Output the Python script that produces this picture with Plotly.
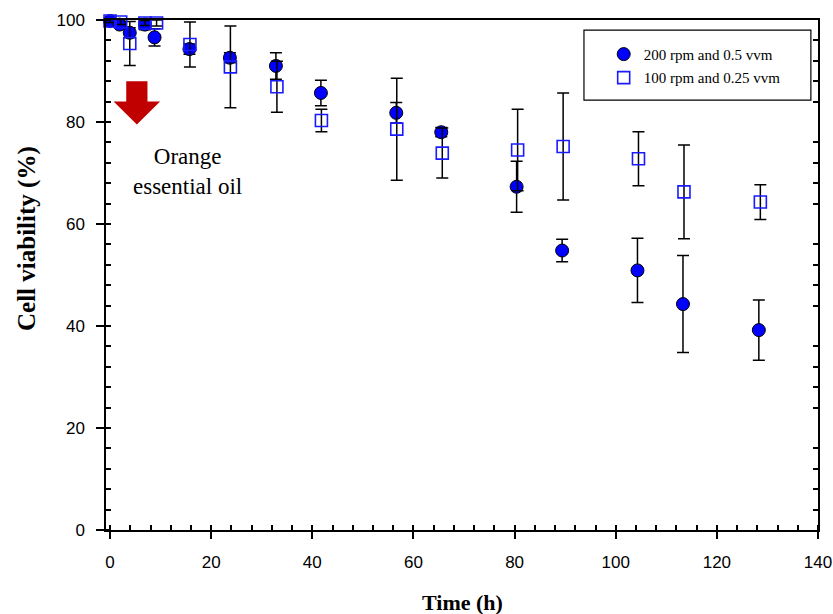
import plotly.graph_objects as go

# ---- data ----
time_a = [0, 1.9, 3.9, 6.9, 8.8, 15.7, 23.7, 32.8, 41.7, 56.6, 65.5, 80.4, 89.4, 104.3, 113.3, 128.3]
via_a = [99.8, 99.1, 97.5, 99.1, 96.6, 94.3, 92.6, 91.0, 85.7, 81.8, 78.0, 67.3, 54.8, 50.9, 44.3, 39.2]
err_a = [0.3, 0.5, 1.0, 1.0, 1.7, 1.0, 1.0, 2.6, 2.5, 2.0, 0.9, 5.0, 2.2, 6.3, 9.5, 5.9]

time_b = [0, 2.1, 3.9, 6.9, 9.2, 15.8, 23.8, 33.0, 41.8, 56.7, 65.7, 80.6, 89.6, 104.5, 113.5, 128.6]
via_b = [99.8, 99.6, 95.4, 99.4, 99.4, 95.2, 90.8, 86.9, 80.3, 78.6, 73.9, 74.5, 75.2, 72.8, 66.3, 64.3]
err_b = [0.3, 0.5, 4.3, 0.5, 0.6, 4.4, 8.0, 5.0, 2.2, 10.0, 4.9, 8.0, 10.5, 5.3, 9.2, 3.4]

name_a = "200 rpm and 0.5 vvm"
name_b = "100 rpm and 0.25 vvm"
x_ticks = [0, 20, 40, 60, 80, 100, 120, 140]
y_ticks = [0, 20, 40, 60, 80, 100]

# arrow (data coords) and annotation
arrow_x, arrow_tip, arrow_head, arrow_top = 5.3, 79.5, 84.0, 88.0
arrow_head_hw, arrow_shaft_hw = 4.6, 2.1

SERIF = "Liberation Serif"
SANS = "Liberation Sans"

fig = go.Figure()

fig.add_trace(go.Scatter(
    x=time_a, y=via_a, mode="markers", name=name_a, legendgroup="a",
    error_y=dict(type="data", array=err_a, visible=True, color="black", thickness=1.5, width=6),
    marker=dict(symbol="circle", size=13, color="#0000ff", line=dict(color="black", width=1)),
    cliponaxis=False,
))
fig.add_trace(go.Scatter(
    x=time_b, y=via_b, mode="markers", name=name_b, legendgroup="b",
    error_y=dict(type="data", array=err_b, visible=True, color="black", thickness=1.5, width=6),
    marker=dict(symbol="square-open", size=12, color="#1a1aff", line=dict(color="#1a1aff", width=1.6)),
    cliponaxis=False,
))
# helper trace so that the right-hand tick axis is drawn
fig.add_trace(go.Scatter(x=[None], y=[None], yaxis="y2", showlegend=False, hoverinfo="skip"))

# arrow shape
ax = arrow_x
path = (f"M {ax-arrow_shaft_hw},{arrow_top} L {ax+arrow_shaft_hw},{arrow_top} "
        f"L {ax+arrow_shaft_hw},{arrow_head} L {ax+arrow_head_hw},{arrow_head} "
        f"L {ax},{arrow_tip} L {ax-arrow_head_hw},{arrow_head} "
        f"L {ax-arrow_shaft_hw},{arrow_head} Z")
shapes = [
    dict(type="path", path=path, xref="x", yref="y", fillcolor="#c00000", line=dict(width=0)),
    # legend frame
    dict(type="rect", xref="paper", yref="paper", x0=0.6713, x1=0.990, y0=0.843, y1=0.980,
         line=dict(color="black", width=1.2), fillcolor="rgba(0,0,0,0)"),
]

annotations = [
    dict(text="Orange<br>essential oil", x=15.3, y=70.3, xref="x", yref="y", showarrow=False,
         font=dict(family=SERIF, size=23, color="black"), align="center"),
    dict(text="<b>Time (h)</b>", x=0.5, y=-0.143, xref="paper", yref="paper", showarrow=False,
         xanchor="center", yanchor="middle",
         font=dict(family=SERIF, size=22, color="black")),
    dict(text="<b>Cell viability (%)</b>", x=-0.111, y=0.5725, xref="paper", yref="paper",
         xanchor="center", yanchor="middle",
         showarrow=False, textangle=-90, font=dict(family=SERIF, size=25, color="black")),
]

fig.update_layout(
    width=833, height=614,
    margin=dict(l=106, r=15, t=20, b=84, autoexpand=False),
    paper_bgcolor="white", plot_bgcolor="white",
    showlegend=True,
    legend=dict(x=0.699, y=0.965, xanchor="left", yanchor="top",
                font=dict(family=SERIF, size=15, color="black"),
                bgcolor="rgba(0,0,0,0)", borderwidth=0, tracegroupgap=1),
    xaxis=dict(range=[-0.8, 140], tickvals=x_ticks, ticks="outside", ticklen=7, tickwidth=1.5,
               tickcolor="black", showline=True, linecolor="black", linewidth=1.5, mirror=True,
               showgrid=False, zeroline=False, ticklabelstandoff=9, automargin=False,
               tickfont=dict(family=SANS, size=17, color="black"),
               minor=dict(ticks="inside", dtick=4, tick0=0, ticklen=5, tickwidth=1.5, tickcolor="black",
                          showgrid=False)),
    yaxis=dict(range=[0, 100], tickvals=y_ticks, ticks="outside", ticklen=8, tickwidth=1.5,
               tickcolor="black", showline=True, linecolor="black", linewidth=1.5, mirror=True,
               showgrid=False, zeroline=False, ticklabelstandoff=8, automargin=False,
               tickfont=dict(family=SANS, size=17, color="black"),
               minor=dict(ticks="inside", dtick=4, tick0=0, ticklen=5, tickwidth=1.5, tickcolor="black",
                          showgrid=False)),
    yaxis2=dict(range=[0, 100], overlaying="y", side="right", showticklabels=False, ticks="",
                dtick=20, showline=False, showgrid=False, zeroline=False, automargin=False,
                minor=dict(ticks="inside", dtick=4, tick0=0, ticklen=5, tickwidth=1.5, tickcolor="black",
                           showgrid=False)),
    shapes=shapes,
    annotations=annotations,
)

fig.write_html("out.html")
